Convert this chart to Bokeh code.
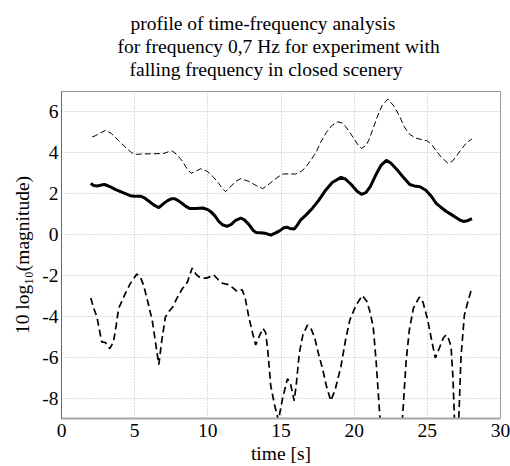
from bokeh.plotting import figure
from bokeh.models import Range1d, FixedTicker, Title
from bokeh.embed import file_html
from bokeh.resources import INLINE

# ---------------- data ----------------
upper_x = [2.1, 2.3, 2.6, 3.0, 3.4, 3.9, 4.4, 4.8, 5.1, 5.6, 6.2, 6.6, 7.0, 7.3, 7.6, 7.9,
           8.25, 8.6, 8.85, 9.2, 9.5, 9.8, 10.0, 10.4, 10.75, 11.0, 11.2, 11.5, 11.9, 12.25,
           12.8, 13.3, 13.75, 14.1, 14.4, 14.8, 15.1, 15.5, 16.0, 16.4, 16.7, 17.0, 17.4,
           17.7, 18.1, 18.5, 18.9, 19.2, 19.4, 19.7, 20.0, 20.3, 20.5, 20.8, 21.0, 21.3,
           21.6, 21.9, 22.3, 22.7, 23.1, 23.4, 23.8, 24.2, 24.6, 25.0, 25.3, 25.6, 26.0,
           26.4, 26.7, 27.0, 27.4, 27.7, 28.05]
upper_y = [4.78, 4.83, 4.95, 5.1, 4.95, 4.6, 4.25, 4.0, 3.92, 3.95, 3.95, 3.96, 3.97, 4.05,
           4.08, 3.9, 3.6, 3.2, 3.0, 3.1, 3.22, 3.15, 3.07, 2.8, 2.5, 2.25, 2.1, 2.3, 2.6,
           2.74, 2.6, 2.4, 2.25, 2.42, 2.6, 2.82, 2.96, 2.97, 2.96, 3.1, 3.3, 3.6, 4.02, 4.5,
           5.0, 5.35, 5.52, 5.45, 5.3, 5.0, 4.67, 4.35, 4.22, 4.35, 4.62, 5.2, 5.8, 6.3, 6.63,
           6.3, 5.8, 5.3, 4.9, 4.72, 4.65, 4.58, 4.4, 4.1, 3.75, 3.5, 3.58, 3.85, 4.25, 4.5,
           4.68]

solid_x = [2.0, 2.2, 2.45, 2.7, 2.95, 3.3, 3.7, 4.2, 4.7, 5.0, 5.4, 5.7, 6.0, 6.3, 6.65,
           6.95, 7.25, 7.5, 7.75, 8.0, 8.25, 8.5, 8.75, 9.2, 9.65, 10.0, 10.2, 10.5, 10.75,
           11.0, 11.3, 11.6, 11.9, 12.25, 12.5, 12.8, 13.1, 13.3, 13.6, 13.9, 14.3, 14.6,
           14.9, 15.2, 15.4, 15.6, 15.9, 16.1, 16.35, 16.7, 17.15, 17.6, 18.05, 18.5, 19.1,
           19.4, 19.8, 20.2, 20.5, 20.8, 21.1, 21.5, 21.85, 22.2, 22.5, 22.9, 23.3, 23.8,
           24.1, 24.5, 24.9, 25.3, 25.6, 25.9, 26.3, 26.6, 26.9, 27.2, 27.45, 27.75, 28.05]
solid_y = [2.5, 2.4, 2.38, 2.42, 2.45, 2.35, 2.2, 2.05, 1.9, 1.87, 1.88, 1.78, 1.62, 1.45,
           1.32, 1.5, 1.66, 1.75, 1.75, 1.65, 1.52, 1.38, 1.28, 1.27, 1.3, 1.22, 1.12, 0.9,
           0.64, 0.48, 0.4, 0.5, 0.7, 0.81, 0.72, 0.5, 0.2, 0.1, 0.09, 0.07, -0.03, 0.07,
           0.18, 0.33, 0.36, 0.3, 0.27, 0.45, 0.72, 0.95, 1.29, 1.7, 2.17, 2.55, 2.8, 2.72,
           2.45, 2.12, 1.97, 2.05, 2.35, 2.95, 3.4, 3.63, 3.5, 3.2, 2.85, 2.45, 2.38, 2.34,
           2.17, 1.85, 1.53, 1.35, 1.13, 1.0, 0.86, 0.72, 0.64, 0.68, 0.78]

lower_x = [2.0, 2.2, 2.42, 2.6, 2.75, 3.0, 3.15, 3.3, 3.55, 3.75, 3.9, 4.1, 4.35, 4.7, 5.15,
           5.4, 5.62, 5.9, 6.2, 6.45, 6.65, 6.85, 7.1, 7.35, 7.6, 7.9, 8.25, 8.6, 8.93, 9.2,
           9.5, 9.9, 10.2, 10.4, 10.7, 11.0, 11.4, 11.7, 12.0, 12.35, 12.55, 12.8, 13.05,
           13.27, 13.5, 13.77, 13.95, 14.1, 14.3, 14.55, 14.82, 15.1, 15.44, 15.65, 15.9,
           16.05, 16.25, 16.5, 16.81, 17.05, 17.3, 17.55, 17.85, 18.1, 18.4, 18.7, 19.1,
           19.4, 19.7, 20.1, 20.55, 20.85, 21.05, 21.3, 21.5, 21.76, 22.0, 22.5, 23.0, 23.3,
           23.55, 23.77, 24.05, 24.45, 24.7, 25.03, 25.3, 25.55, 25.85, 26.1, 26.28, 26.45,
           26.62, 26.75, 26.85, 27.0, 27.15, 27.3, 27.53, 27.8, 28.06]
lower_y = [-3.1, -3.6, -4.03, -4.7, -5.25, -5.28, -5.45, -5.58, -5.25, -4.4, -3.62, -3.3,
           -2.9, -2.4, -1.93, -2.1, -2.5, -3.3, -4.2, -5.4, -6.36, -5.2, -4.03, -3.75, -3.55,
           -3.1, -2.66, -2.33, -1.64, -1.95, -2.13, -2.13, -2.05, -1.97, -2.2, -2.38, -2.45,
           -2.6, -2.79, -2.7, -3.1, -4.03, -4.8, -5.4, -5.0, -4.59, -4.8, -5.7, -7.4, -8.3,
           -9.1, -8.05, -7.05, -7.3, -8.13, -7.3, -5.8, -4.9, -4.43, -4.6, -5.05, -5.8, -6.6,
           -7.4, -8.13, -7.6, -6.44, -5.2, -4.19, -3.5, -2.98, -3.25, -3.7, -4.5, -6.2, -8.94,
           -11.0, -13.0, -11.0, -9.0, -6.2, -4.67, -3.6, -3.06, -3.3, -4.19, -5.2, -6.04,
           -5.5, -5.05, -4.91, -5.1, -5.47, -7.0, -8.94, -10.5, -9.0, -6.0, -3.95, -3.2, -2.58]

x_ticks = [0, 5, 10, 15, 20, 25, 30]
x_tick_labels = ["0", "5", "10", "15", "20", "25", "30"]
y_ticks = [-8, -6, -4, -2, 0, 2, 4, 6]
y_tick_labels = ["-8", "-6", "-4", "-2", "0", "2", "4", "6"]

title_lines = ["profile of time-frequency analysis",
               "for frequency 0,7 Hz for experiment with",
               "falling frequency in closed scenery"]
x_label = "time [s]"
y_label = "10 log\u2081\u2080(magnitude)"

# ---------------- figure ----------------
W, H = 510, 466
FONT = "Liberation Serif"
FS = "19.5px"

p = figure(width=W, height=H, output_backend="svg", toolbar_location=None, title=None,
           x_range=Range1d(0, 30), y_range=Range1d(-9, 7),
           min_border_left=61, min_border_right=10, min_border_top=91, min_border_bottom=44)
p.background_fill_color = "white"
p.border_fill_color = "white"
p.outline_line_color = "#9a9a9a"
p.outline_line_width = 1

p.xaxis.ticker = FixedTicker(ticks=x_ticks)
p.yaxis.ticker = FixedTicker(ticks=y_ticks)
p.xaxis.major_label_overrides = {t: s for t, s in zip(x_ticks, x_tick_labels)}
p.yaxis.major_label_overrides = {t: s for t, s in zip(y_ticks, y_tick_labels)}
for ax in (p.xaxis, p.yaxis):
    ax.major_label_text_font = FONT
    ax.major_label_text_font_size = FS
    ax.major_label_text_color = "black"
    ax.axis_label_text_font = FONT
    ax.axis_label_text_font_size = FS
    ax.axis_label_text_font_style = "normal"
    ax.axis_label_text_color = "black"
    ax.major_tick_in = 0
    ax.major_tick_out = 0
    ax.minor_tick_in = 0
    ax.minor_tick_out = 0
p.xaxis.axis_label = x_label
p.yaxis.axis_label = y_label
p.xaxis.major_label_standoff = 5
p.yaxis.major_label_standoff = 3
p.xaxis.axis_label_standoff = 3
p.yaxis.axis_label_standoff = 6
p.xaxis.axis_line_color = "#a8a8a8"
p.xaxis.axis_line_width = 2
p.yaxis.axis_line_color = "#666666"
p.yaxis.axis_line_width = 1

p.grid.grid_line_color = "#b8b8b8"
p.grid.grid_line_dash = "1 2"
p.grid.grid_line_width = 1

p.line(upper_x, upper_y, line_color="black", line_width=1, line_dash="6 3")
p.line(solid_x, solid_y, line_color="black", line_width=3)
p.line(lower_x, lower_y, line_color="black", line_width=1.7, line_dash="7 4")

# gap between the frame and the title block
p.add_layout(Title(text=" ", text_font_size="1px", standoff=9), "above")
# title: three lines, stacked outward from the frame (last line added first)
title_offsets = [69, 56, 68]
for txt, off in reversed(list(zip(title_lines, title_offsets))):
    p.add_layout(Title(text=txt, align="left", offset=off, standoff=0,
                       text_line_height=0.9,
                       text_font=FONT, text_font_size=FS, text_font_style="normal",
                       text_color="black"), "above")

open("out.html", "w").write(file_html(p, INLINE))
